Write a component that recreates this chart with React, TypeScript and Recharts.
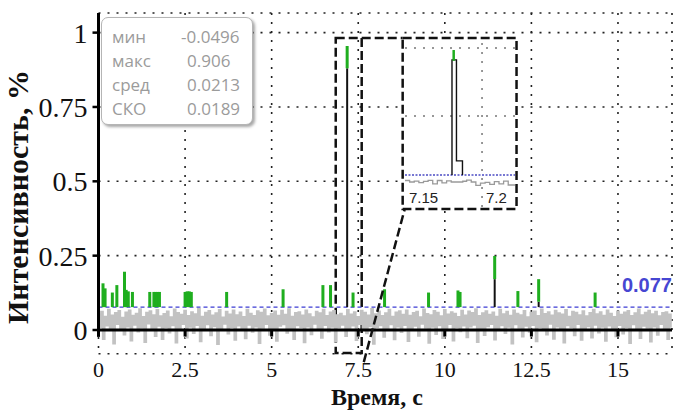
import React from 'react';
import {
  ComposedChart,
  LineChart,
  Line,
  XAxis,
  YAxis,
  CartesianGrid,
  ReferenceLine,
  ReferenceArea,
} from 'recharts';

// Axis ticks
const xTicks = [0, 2.5, 5, 7.5, 10, 12.5, 15];
const yTicks = [0, 0.25, 0.5, 0.75, 1];

// Detection threshold, %
const threshold = 0.077;

// Background signal: upper swings (t = 0, 0.1, 0.2 ...) and lower swings (t = 0.05, 0.15 ...)
const noiseHigh = [
  0.052, 0.061, 0.045, 0.068, 0.049, 0.057, 0.064, 0.041, 0.059, 0.066,
  0.048, 0.055, 0.07, 0.044, 0.058, 0.063, 0.05, 0.067, 0.046, 0.054,
  0.062, 0.043, 0.069, 0.057, 0.051, 0.065, 0.047, 0.06, 0.053, 0.071,
  0.045, 0.058, 0.064, 0.049, 0.056, 0.067, 0.042, 0.061, 0.052, 0.066,
  0.05, 0.059, 0.044, 0.068, 0.055, 0.047, 0.063, 0.058, 0.069, 0.046,
  0.054, 0.062, 0.048, 0.065, 0.051, 0.07, 0.045, 0.057, 0.06, 0.049,
  0.066, 0.053, 0.043, 0.061, 0.056, 0.068, 0.047, 0.059, 0.064, 0.05,
  0.055, 0.046, 0.067, 0.052, 0.06, 0.044, 0.065, 0.058, 0.049, 0.071,
  0.053, 0.062, 0.047, 0.056, 0.068, 0.045, 0.059, 0.063, 0.051, 0.066,
  0.048, 0.057, 0.061, 0.043, 0.069, 0.054, 0.05, 0.064, 0.058, 0.046,
  0.067, 0.052, 0.06, 0.055, 0.044, 0.065, 0.049, 0.062, 0.057, 0.07,
  0.047, 0.056, 0.063, 0.051, 0.059, 0.045, 0.068, 0.053, 0.061, 0.048,
  0.066, 0.055, 0.05, 0.064, 0.043, 0.058, 0.062, 0.047, 0.069, 0.054,
  0.06, 0.049, 0.065, 0.056, 0.052, 0.067, 0.045, 0.061, 0.058, 0.05,
  0.063, 0.046, 0.057, 0.068, 0.053, 0.06, 0.048, 0.066, 0.055, 0.044,
  0.062, 0.051, 0.059, 0.064, 0.047, 0.056, 0.069, 0.05, 0.058, 0.065,
  0.053, 0.061, 0.046, 0.057, 0.06, 0.052,
];
const noiseLow = [
  0.01, -0.03, 0.015, 0.005, -0.045, 0.02, 0.0, -0.015, 0.012, -0.035,
  0.018, -0.005, 0.008, -0.04, 0.022, 0.003, -0.02, 0.014, -0.03, 0.009,
  -0.008, 0.016, -0.042, 0.006, 0.02, -0.025, 0.011, -0.01, 0.017, -0.038,
  0.004, 0.019, -0.018, 0.013, -0.047, 0.007, 0.021, -0.012, 0.01, -0.033,
  0.015, 0.002, -0.028, 0.018, -0.006, 0.012, -0.044, 0.008, 0.02, -0.016,
  0.005, -0.036, 0.014, 0.019, -0.009, 0.003, -0.03, 0.016, 0.01, -0.041,
  0.012, -0.014, 0.021, 0.006, -0.026, 0.017, -0.005, 0.011, -0.039, 0.009,
  0.018, -0.02, 0.004, 0.015, -0.034, 0.02, 0.007, -0.011, 0.013, -0.046,
  0.01, 0.016, -0.023, 0.005, 0.019, -0.031, 0.012, -0.007, 0.017, -0.037,
  0.003, 0.014, -0.019, 0.021, 0.008, -0.043, 0.011, -0.013, 0.016, -0.027,
  0.006, 0.02, -0.035, 0.009, -0.004, 0.015, -0.024, 0.012, 0.018, -0.04,
  0.007, -0.017, 0.013, 0.02, -0.032, 0.004, 0.016, -0.01, 0.011, -0.045,
  0.019, 0.008, -0.022, 0.014, -0.006, 0.017, -0.038, 0.01, 0.003, -0.015,
  0.021, -0.029, 0.012, 0.006, -0.042, 0.016, 0.009, -0.018, 0.02, -0.033,
  0.005, 0.013, -0.025, 0.018, -0.008, 0.011, -0.036, 0.015, 0.007, -0.021,
  0.017, -0.012, 0.01, -0.044, 0.019, 0.004, -0.027, 0.014, 0.008, -0.039,
  0.012, -0.016, 0.02, 0.006, -0.03, 0.011,
];

// Detected peaks: time, peak value and the level where the highlighted part starts
const spikeTimes = [
  0.13, 0.19, 0.4, 0.53, 0.75, 0.8, 0.86, 0.98, 1.48, 1.6, 1.65, 1.7, 1.76,
  2.5, 2.56, 2.62, 2.68, 3.7, 5.33, 6.48, 6.7, 7.18, 7.35, 8.26, 9.53,
  10.38, 10.44, 11.44, 12.11, 12.71, 14.34,
];
const spikeTops = [
  0.157, 0.14, 0.126, 0.151, 0.196, 0.135, 0.13, 0.128, 0.128, 0.128, 0.128, 0.128, 0.128,
  0.128, 0.13, 0.13, 0.128, 0.128, 0.137, 0.151, 0.151, 0.955, 0.126, 0.137, 0.126,
  0.133, 0.128, 0.249, 0.131, 0.171, 0.126,
];
const spikeGreenFrom = [
  0.077, 0.077, 0.077, 0.077, 0.077, 0.077, 0.077, 0.077, 0.077, 0.077, 0.077, 0.077, 0.077,
  0.077, 0.077, 0.077, 0.077, 0.077, 0.077, 0.077, 0.077, 0.88, 0.077, 0.077, 0.077,
  0.077, 0.077, 0.171, 0.077, 0.095, 0.077,
];

// Statistics panel
const statLabels = ['мин', 'макс', 'сред', 'СКО'];
const statValues = ['-0.0496', '0.906', '0.0213', '0.0189'];

// Zoomed window around the largest peak
const zoomWindow = { x1: 6.85, x2: 7.6, y1: -0.077, y2: 0.982 };
const insetFrame = { x1: 8.783, x2: 12.071, y1: 0.407, y2: 0.982 };
const insetNoiseTimes = [
  7.15, 7.153, 7.156, 7.159, 7.162, 7.165, 7.168, 7.171, 7.174, 7.177, 7.18,
  7.1875, 7.19, 7.193, 7.196, 7.199, 7.202, 7.205, 7.208, 7.211, 7.214, 7.217, 7.222,
];
const insetNoiseValues = [
  0.04, 0.03, 0.036, 0.026, 0.034, 0.041, 0.018, 0.04, 0.024, 0.038, 0.03,
  0.035, 0.042, 0.03, 0.008, 0.022, 0.028, 0.014, 0.032, 0.018, 0.036, 0.01, 0.03,
];
const insetPulseTimes = [7.1805, 7.1805, 7.1834, 7.1873];
const insetPulseValues = [0.077, 0.846, 0.171, 0.077];
const insetTicks = [7.15, 7.2];
const insetGridY = [0.471, 0.926];
const insetPeak = { t: 7.1816, from: 0.84, to: 0.912 };

const noiseRows = noiseHigh.flatMap((h, i) => [
  { t: +(i * 0.1).toFixed(2), v: h },
  { t: +(i * 0.1 + 0.05).toFixed(2), v: noiseLow[i] },
]);
const insetNoiseRows = insetNoiseTimes.map((t, i) => ({ t, v: insetNoiseValues[i] }));
const insetPulseRows = insetPulseTimes.map((t, i) => ({ t, v: insetPulseValues[i] }));

const SERIF = '"Liberation Serif", "Times New Roman", serif';
const GREEN = '#1fae1f';
const BLUE = '#3c3cd4';
const DASH = '9 4';

const YTitle = () => (
  <text
    x={28}
    y={197}
    transform="rotate(-90 28 197)"
    textAnchor="middle"
    style={{ fontFamily: SERIF, fontWeight: 700, fontSize: 30, fill: '#111' }}
  >
    Интенсивность, %
  </text>
);

const XTitle = () => (
  <text
    x={377}
    y={405}
    textAnchor="middle"
    style={{ fontFamily: SERIF, fontWeight: 700, fontSize: 24, fill: '#111' }}
  >
    Время, с
  </text>
);

const ThresholdLabel = (props: any) => {
  const vb = props.viewBox || {};
  return (
    <text
      x={(vb.x || 0) + (vb.width || 0)}
      y={(vb.y || 0) - 15}
      textAnchor="end"
      style={{ fontFamily: '"Liberation Sans", Arial, sans-serif', fontWeight: 700, fontSize: 20, fill: '#4646d2' }}
    >
      {threshold.toString()}
    </text>
  );
};

export default function App() {
  return (
    <div style={{ position: 'absolute', left: 0, top: 0, width: 675, height: 411, background: '#fff' }}>
      <ComposedChart
        width={675}
        height={411}
        data={noiseRows}
        margin={{ top: 13, right: 3, bottom: 0, left: 0.5 }}
      >
        <CartesianGrid stroke="#222" strokeDasharray="2 7" strokeWidth={1.6} />
        <XAxis
          type="number"
          dataKey="t"
          domain={[0, 16.56]}
          ticks={xTicks}
          interval={0}
          allowDataOverflow
          axisLine={false}
          tickLine={false}
          tickSize={6}
          tickMargin={2}
          height={57.2}
          tick={{ fill: '#111', fontSize: 22, fontFamily: SERIF }}
          label={XTitle}
        />
        <YAxis
          type="number"
          domain={[-0.08, 1.066]}
          ticks={yTicks}
          interval={0}
          allowDataOverflow
          width={98}
          axisLine={false}
          tickLine={{ stroke: '#000', strokeWidth: 2.5 }}
          tickSize={6}
          tickMargin={5}
          tick={{ fill: '#111', fontSize: 28, fontFamily: SERIF }}
          label={YTitle}
        />
        <Line
          type="step"
          dataKey="v"
          stroke="#c2c2c2"
          strokeWidth={2}
          dot={false}
          activeDot={false}
          isAnimationActive={false}
        />
        <ReferenceLine y={threshold} stroke={BLUE} strokeDasharray="4 3" strokeWidth={1.3} label={ThresholdLabel} />
        {/* axes drawn through zero */}
        <ReferenceLine segment={[{ x: 0, y: 0 }, { x: 16.56, y: 0 }]} stroke="#000" strokeWidth={3} />
        <ReferenceLine segment={[{ x: 0, y: -0.023 }, { x: 0, y: 1.066 }]} stroke="#000" strokeWidth={3} />
        {xTicks.map((t) => (
          <ReferenceLine key={'xt' + t} segment={[{ x: t, y: 0 }, { x: t, y: -0.022 }]} stroke="#000" strokeWidth={3} />
        ))}
        {/* peaks */}
        {spikeTimes.map((t, i) =>
          spikeGreenFrom[i] > threshold ? (
            <ReferenceLine
              key={'b' + i}
              segment={[{ x: t, y: threshold }, { x: t, y: spikeGreenFrom[i] }]}
              stroke="#111"
              strokeWidth={2}
            />
          ) : null
        )}
        {spikeTimes.map((t, i) => (
          <ReferenceLine
            key={'g' + i}
            segment={[{ x: t, y: spikeGreenFrom[i] }, { x: t, y: spikeTops[i] }]}
            stroke={GREEN}
            strokeWidth={3}
          />
        ))}
        {/* zoom window, inset frame and their connectors */}
        <ReferenceArea
          x1={zoomWindow.x1}
          x2={zoomWindow.x2}
          y1={zoomWindow.y1}
          y2={zoomWindow.y2}
          fill="none"
          fillOpacity={0}
          stroke="#111"
          strokeWidth={2.5}
          strokeDasharray={DASH}
          ifOverflow="visible"
        />
        <ReferenceArea
          x1={insetFrame.x1}
          x2={insetFrame.x2}
          y1={insetFrame.y1}
          y2={insetFrame.y2}
          fill="#fff"
          fillOpacity={1}
          stroke="#111"
          strokeWidth={2.5}
          strokeDasharray={DASH}
          ifOverflow="visible"
        />
        <ReferenceLine
          segment={[{ x: zoomWindow.x2, y: zoomWindow.y2 }, { x: insetFrame.x1, y: insetFrame.y2 }]}
          stroke="#111"
          strokeWidth={2.5}
          strokeDasharray={DASH}
          ifOverflow="visible"
        />
        <ReferenceLine
          segment={[{ x: 7.66, y: -0.108 }, { x: insetFrame.x1 + 0.06, y: insetFrame.y1 }]}
          stroke="#111"
          strokeWidth={2.5}
          strokeDasharray={DASH}
          ifOverflow="visible"
        />
      </ComposedChart>

      {/* inset: the largest peak at higher time resolution */}
      <div style={{ position: 'absolute', left: 405, top: 40, width: 110, height: 167 }}>
        <LineChart width={110} height={167} data={insetNoiseRows} margin={{ top: 0, right: 0, bottom: 0, left: 0 }}>
          <XAxis type="number" dataKey="t" domain={[7.15, 7.2214]} hide allowDataOverflow />
          <YAxis type="number" domain={[-0.137, 0.979]} hide allowDataOverflow />
          {insetGridY.map((y) => (
            <ReferenceLine key={'iy' + y} y={y} stroke="#777" strokeDasharray="2 7" strokeWidth={1.5} />
          ))}
          <ReferenceLine x={insetTicks[1]} stroke="#777" strokeDasharray="2 7" strokeWidth={1.5} />
          {insetTicks.map((t) => (
            <ReferenceLine
              key={'il' + t}
              x={t}
              stroke="none"
              ifOverflow="visible"
              label={{
                value: t.toString(),
                position: 'insideBottomLeft',
                offset: 4,
                fill: '#222',
                fontSize: 15,
                fontFamily: '"Liberation Sans", Arial, sans-serif',
              }}
            />
          ))}
          <ReferenceLine y={threshold} stroke="#4b4bc4" strokeDasharray="2 1.5" strokeWidth={1.5} />
          <Line
            type="stepAfter"
            dataKey="v"
            stroke="#9a9a9a"
            strokeWidth={1.3}
            dot={false}
            activeDot={false}
            isAnimationActive={false}
          />
          <Line
            data={insetPulseRows}
            type="stepAfter"
            dataKey="v"
            stroke="#111"
            strokeWidth={1.4}
            dot={false}
            activeDot={false}
            isAnimationActive={false}
          />
          <ReferenceLine
            segment={[{ x: insetPeak.t, y: insetPeak.from }, { x: insetPeak.t, y: insetPeak.to }]}
            stroke={GREEN}
            strokeWidth={2.5}
          />
        </LineChart>
      </div>

      {/* statistics panel */}
      <div
        style={{
          position: 'absolute',
          left: 101,
          top: 17,
          width: 150,
          height: 106,
          border: '1px solid #b5b5b5',
          borderRadius: 7,
          background: '#fff',
          boxShadow: '2px 2px 3px rgba(0,0,0,0.35)',
        }}
      />
      {statLabels.map((label, i) => (
        <React.Fragment key={label}>
          <div
            style={{
              position: 'absolute',
              left: 112,
              top: 27 + i * 24,
              lineHeight: '20px',
              fontSize: 17,
              fontFamily: '"Open Sans", sans-serif',
              color: '#9b9b9b',
              whiteSpace: 'nowrap',
            }}
          >
            {label}
          </div>
          <div
            style={{
              position: 'absolute',
              left: i === 0 ? 181 : 187,
              top: 27 + i * 24,
              lineHeight: '20px',
              fontSize: 17,
              fontFamily: '"Open Sans", sans-serif',
              color: '#9b9b9b',
              whiteSpace: 'nowrap',
            }}
          >
            {statValues[i]}
          </div>
        </React.Fragment>
      ))}
    </div>
  );
}
